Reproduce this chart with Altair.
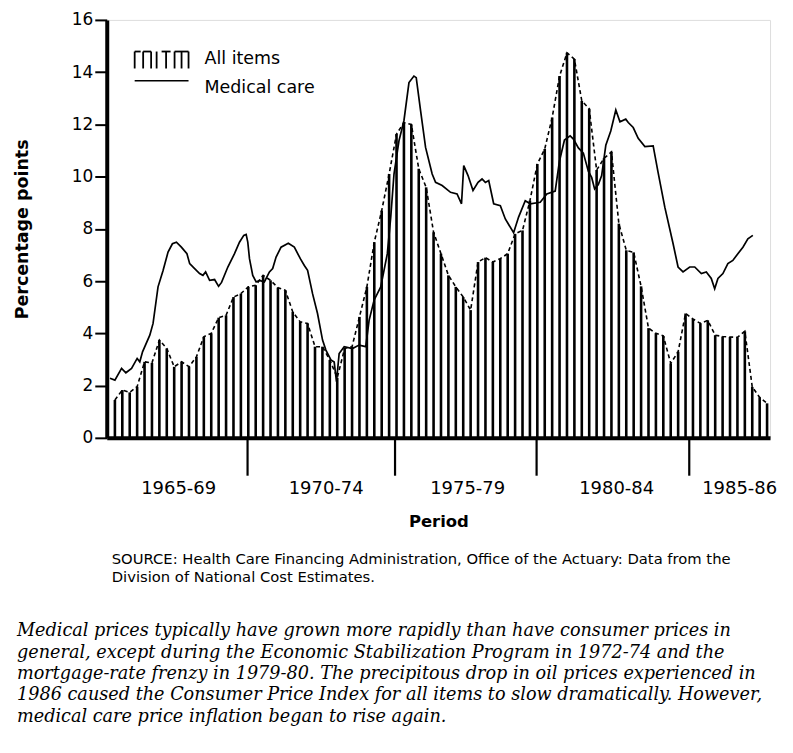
import altair as alt
import pandas as pd

# ---- data ----
# All items: one bar per quarter (percentage points)
all_items = [1.45, 1.83, 1.74, 1.96, 2.91, 2.87, 3.74, 3.42, 2.72, 2.91,
             2.72, 3.1, 3.87, 4.0, 4.6, 4.69, 5.39, 5.52, 5.78, 5.84,
             6.22, 6.03, 5.75, 5.65, 4.82, 4.44, 4.38, 3.49, 3.49, 2.98,
             2.3, 3.42, 3.49, 4.63, 5.78, 7.49, 8.7, 10.1, 11.63, 12.07,
             12.0, 10.3, 9.59, 7.87, 7.05, 6.22, 5.78, 5.39, 4.89, 6.73,
             6.9, 6.73, 6.86, 7.05, 7.81, 7.94, 9.08, 10.48, 11.06, 12.26,
             13.85, 14.74, 14.5, 12.9, 12.6, 10.25, 10.7, 10.95, 8.2, 7.18,
             7.1, 5.8, 4.2, 4.0, 3.9, 2.85, 3.3, 4.76, 4.55, 4.38,
             4.5, 3.93, 3.88, 3.86, 3.85, 4.08, 1.95, 1.55, 1.32]
quarters = list(range(len(all_items)))

# Medical care: position in quarters and value
med_q = [-0.67, 0, 0.9, 1.48, 2.25, 3.0, 3.36, 3.73, 4.71, 5.15,
         5.82, 6.5, 7.17, 7.76, 8.3, 8.97, 9.72, 10.09, 10.76, 11.43,
         11.88, 12.24, 12.78, 13.45, 13.99, 14.39, 15.24, 16.14, 16.81, 17.39,
         17.71, 17.93, 18.16, 18.6, 19.06, 19.5, 20.17, 20.85, 21.29, 21.75,
         22.42, 23.4, 24.21, 25.02, 25.56, 26.0, 26.67, 27.34, 28.02, 28.47,
         29.15, 29.59, 29.9, 30.26, 30.94, 32.05, 32.95, 33.85, 34.3, 34.97,
         35.87, 36.76, 37.22, 37.66, 38.33, 39.0, 39.68, 40.35, 40.66, 41.25,
         41.92, 42.81, 43.27, 44.16, 45.29, 46.17, 46.77, 47.07, 47.65, 48.32,
         49.0, 49.54, 49.99, 50.44, 51.11, 52.01, 52.68, 53.8, 54.47, 55.37,
         56.05, 57.39, 58.28, 59.41, 59.99, 60.66, 61.43, 61.87, 62.54, 63.21,
         63.89, 64.33, 64.73, 65.23, 65.68, 66.24, 66.91, 67.59, 68.15, 68.93,
         69.27, 69.94, 70.61, 71.51, 72.63, 73.3, 74.2, 75.32, 75.99, 76.66,
         77.56, 78.24, 79.13, 79.8, 80.47, 80.93, 81.37, 82.04, 82.71, 83.38,
         84.06, 84.74, 85.41, 86.08]
med_val = [2.28, 2.21, 2.66, 2.49, 2.66, 3.04, 2.91, 3.29, 3.93, 4.38,
           5.78, 6.41, 7.11, 7.43, 7.49, 7.3, 7.05, 6.67, 6.48, 6.29,
           6.22, 6.35, 6.03, 6.06, 5.8, 5.95, 6.54, 7.05, 7.49, 7.75,
           7.79, 7.49, 6.86, 6.22, 5.97, 6.03, 5.97, 6.35, 6.48, 6.92,
           7.3, 7.45, 7.3, 6.86, 6.6, 6.41, 5.52, 4.76, 3.74, 3.36,
           2.98, 2.9, 2.15, 3.23, 3.49, 3.42, 3.55, 3.49, 4.5, 5.27,
           5.78, 7.05, 8.45, 10.1, 11.37, 12.14, 13.6, 13.85, 13.79, 12.52,
           11.12, 10.1, 9.78, 9.66, 9.4, 9.34, 8.96, 10.42, 10.04, 9.47,
           9.78, 9.91, 9.78, 9.85, 8.96, 8.89, 8.38, 7.85, 8.45, 9.08,
           8.96, 9.02, 9.34, 9.45, 10.6, 11.4, 11.56, 11.44, 11.1, 10.9,
           10.2, 9.97, 9.53, 9.7, 10.04, 11.2, 11.75, 12.55, 12.1, 12.2,
           12.07, 11.88, 11.47, 11.15, 11.18, 10.15, 8.83, 7.43, 6.54, 6.35,
           6.54, 6.54, 6.29, 6.35, 6.1, 5.71, 6.1, 6.29, 6.67, 6.79,
           7.05, 7.3, 7.62, 7.75]

# Period dividers and labels (positions in quarters)
period_breaks = [17.9, 37.8, 56.9, 77.5]
period_labels = ["1965-69", "1970-74", "1975-79", "1980-84", "1985-86"]
period_label_pos = [8.6, 28.5, 47.6, 67.7, 84.3]

y_ticks = [0, 2, 4, 6, 8, 10, 12, 14, 16]

caption_lines = [
    "Medical prices typically have grown more rapidly than have consumer prices in",
    "general, except during the Economic Stabilization Program in 1972-74 and the",
    "mortgage-rate frenzy in 1979-80. The precipitous drop in oil prices experienced in",
    "1986 caused the Consumer Price Index for all items to slow dramatically. However,",
    "medical care price inflation began to rise again.",
]
source_lines = [
    "SOURCE: Health Care Financing Administration, Office of the Actuary: Data from the",
    "Division of National Cost Estimates.",
]

# ---- tables ----
bars_df = pd.DataFrame({"q": quarters, "v": all_items})
med_df = pd.DataFrame({"q": med_q, "v": med_val})
breaks_df = pd.DataFrame({"q": period_breaks})
labels_df = pd.DataFrame({"q": period_label_pos, "label": period_labels})
one = pd.DataFrame({"a": [0]})

SANS = "DejaVu Sans"
W, H = 665, 419
xscale = alt.Scale(domain=[-1.1, 88.4], nice=False, zero=False)
yscale = alt.Scale(domain=[0, 16], nice=False, zero=True)

x_axis = alt.Axis(ticks=False, labels=False, grid=False, domainWidth=4,
                  domainColor="black", title="Period", titleFont=SANS,
                  titleFontSize=16.5, titleFontWeight="bold", titleColor="black",
                  titlePadding=76)
y_axis = alt.Axis(values=y_ticks, tickSize=12, tickWidth=2, tickColor="black",
                  domainWidth=4, domainColor="black", grid=False,
                  labelFont=SANS, labelFontSize=17, labelColor="black",
                  labelPadding=2, title="Percentage points", titleFont=SANS,
                  titleFontSize=17.5, titleFontWeight="bold", titleColor="black",
                  titlePadding=40)

bars = alt.Chart(bars_df).mark_rule(color="black", strokeWidth=2.6).encode(
    x=alt.X("q:Q", scale=xscale, axis=x_axis),
    y=alt.Y("v:Q", scale=yscale, axis=y_axis),
    y2=alt.datum(0),
)

envelope = alt.Chart(bars_df).mark_line(color="black", strokeWidth=1.6,
                                        strokeDash=[4, 3]).encode(
    x=alt.X("q:Q", scale=xscale),
    y=alt.Y("v:Q", scale=yscale),
)

medical = alt.Chart(med_df).mark_line(color="black", strokeWidth=1.7).encode(
    x=alt.X("q:Q", scale=xscale),
    y=alt.Y("v:Q", scale=yscale),
)

dividers = alt.Chart(breaks_df).mark_rule(color="black", strokeWidth=2.2).encode(
    x=alt.X("q:Q", scale=xscale),
    y=alt.datum(0, scale=yscale),
    y2=alt.datum(-1.45),
)

period_text = alt.Chart(labels_df).mark_text(font=SANS, fontSize=18, color="black",
                                             baseline="middle", align="center").encode(
    x=alt.X("q:Q", scale=xscale),
    y=alt.datum(-1.95, scale=yscale),
    text="label:N",
)

# ---- legend (drawn by hand, top-left inside the plot) ----
legend_layers = []
glyph_top, glyph_bot = 31.7, 48.7
for gx in [28, 36.5, 44.5, 50, 59.5, 68, 75, 82]:
    legend_layers.append(alt.Chart(one).mark_rule(color="black", strokeWidth=1.8).encode(
        x=alt.value(gx), y=alt.value(glyph_top), y2=alt.value(glyph_bot)))
for x1, x2 in [(28, 34), (36.5, 44.5), (55, 64), (68, 82)]:
    legend_layers.append(alt.Chart(one).mark_rule(color="black", strokeWidth=1.8).encode(
        x=alt.value(x1), x2=alt.value(x2), y=alt.value(glyph_top)))
legend_layers.append(alt.Chart(one).mark_rule(color="black", strokeWidth=1.6).encode(
    x=alt.value(28), x2=alt.value(82), y=alt.value(61)))
legend_layers.append(alt.Chart(one).mark_text(font=SANS, fontSize=17.5, align="left",
                                              baseline="middle", color="black").encode(
    x=alt.value(98), y=alt.value(39), text=alt.value("All items")))
legend_layers.append(alt.Chart(one).mark_text(font=SANS, fontSize=17.5, align="left",
                                              baseline="middle", color="black").encode(
    x=alt.value(98), y=alt.value(68), text=alt.value("Medical care")))

source = alt.Chart(one).mark_text(font=SANS, fontSize=14.8, align="left",
                                  baseline="top", color="black", lineHeight=19).encode(
    x=alt.value(5), y=alt.value(533), text=alt.value(source_lines))

caption = alt.Chart(one).mark_text(font="DejaVu Serif", fontStyle="italic",
                                   fontSize=17.7, align="left", baseline="top",
                                   color="black", lineHeight=21.4).encode(
    x=alt.value(-90), y=alt.value(604), text=alt.value(caption_lines))

chart = alt.layer(bars, envelope, medical, dividers, period_text,
                  *legend_layers, source, caption).properties(
    width=W, height=H,
    padding={"left": 99, "top": 11, "right": 15, "bottom": 300},
    autosize=alt.AutoSizeParams(type="none"),
).configure_view(stroke=None).configure(background="white")

chart.save("out.html", embed_options={"renderer": "svg", "actions": False})
